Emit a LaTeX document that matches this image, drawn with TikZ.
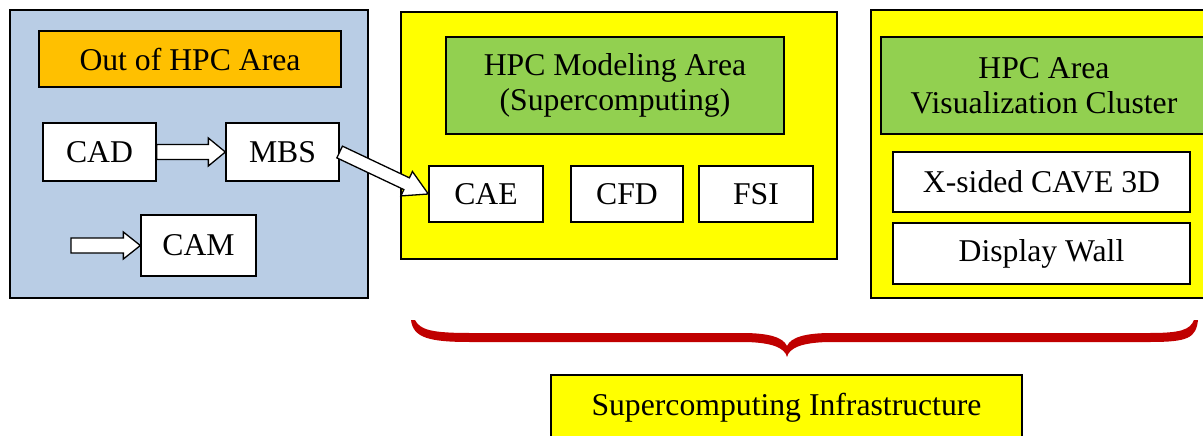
\documentclass[tikz,border=0pt]{standalone}
\usepackage{fontspec}
\setmainfont{Liberation Serif}
\usetikzlibrary{calc}
\definecolor{areablue}{HTML}{B9CDE5}
\definecolor{areaorange}{HTML}{FFC000}
\definecolor{areagreen}{HTML}{92D050}
\definecolor{areayellow}{HTML}{FFFF00}
\definecolor{bracered}{HTML}{C00000}
\tikzset{
  boxbase/.style={draw=black, line width=1.3pt, inner sep=0pt, align=center,
    font=\fontsize{31.7}{35}\selectfont},
  area/.style={boxbase},
  item/.style={boxbase, fill=white},
  barrow/.style={draw=black, line width=1.3pt, fill=white, line join=miter},
}
\newcommand\blockarr[5]{%
  \path ($(#2)!#5!(#1)$) coordinate (bah);
  \draw[barrow] ($(#1)!#3!90:(#2)$) -- ($(bah)!#3!90:(#2)$) -- ($(bah)!#4!90:(#2)$)
    -- (#2) -- ($(bah)!#4!-90:(#2)$) -- ($(bah)!#3!-90:(#2)$) -- ($(#1)!#3!-90:(#2)$) -- cycle;
}
\begin{document}
\begin{tikzpicture}[x=1pt,y=-1pt]
\useasboundingbox (0,0) rectangle (1203,436);
\clip (0,0) rectangle (1203,436);

% Out of HPC area
\node[area, fill=areablue, minimum width=358pt, minimum height=288pt] (outer) at (189,154) {};
\node[area, fill=areaorange, minimum width=302pt, minimum height=56pt] (outhdr) at (190,59) {Out of HPC Area};
\node[item, minimum width=113pt, minimum height=58pt] (cad) at (99.5,152) {CAD};
\node[item, minimum width=113pt, minimum height=58pt] (mbs) at (282.5,152) {MBS};
\node[item, minimum width=115pt, minimum height=61pt] (cam) at (198.5,245.5) {CAM};

% HPC modeling area
\node[area, fill=areayellow, minimum width=436pt, minimum height=247pt] (model) at (619,135.5) {};
\node[area, fill=areagreen, minimum width=338pt, minimum height=97pt] (modelhdr) at (615,85.5) {HPC Modeling Area\\(Supercomputing)};
\node[item, minimum width=114pt, minimum height=56pt] (cae) at (486,194) {CAE};
\node[item, minimum width=112pt, minimum height=56pt] (cfd) at (627,194) {CFD};
\node[item, minimum width=114pt, minimum height=56pt] (fsi) at (756,194) {FSI};

% HPC visualization area
\node[area, fill=areayellow, minimum width=341pt, minimum height=288pt] (vis) at (1041.5,154) {};
\node[area, fill=areagreen, minimum width=326pt, minimum height=97pt] (vishdr) at (1044,85.5) {HPC Area\\Visualization Cluster};
\node[item, minimum width=297pt, minimum height=60pt] (cave) at (1041.5,182) {X-sided CAVE 3D};
\node[item, minimum width=297pt, minimum height=61pt] (wall) at (1041.5,253.5) {Display Wall};

% arrows
\blockarr{cad.east}{mbs.west}{7.5pt}{14pt}{17pt}
\coordinate (camin) at (71,245.5);
\blockarr{camin}{cam.west}{7.5pt}{13.5pt}{17pt}
\blockarr{mbs.east}{cae.west}{6.5pt}{13.5pt}{24pt}

% brace
\fill[bracered] (411,320) .. controls (413,338) and (430,342) .. (470,342) -- (742,342)
  .. controls (772,342) and (785,348) .. (787,357)
  .. controls (789,348) and (802,342) .. (832,342) -- (1150,342)
  .. controls (1188,342) and (1196,338) .. (1198,320)
  -- (1194,320) .. controls (1190,330) and (1180,333) .. (1150,333) -- (832,333)
  .. controls (806,333) and (791,337) .. (787,346)
  .. controls (783,337) and (768,333) .. (742,333) -- (470,333)
  .. controls (432,333) and (420,330) .. (415,320) -- cycle;

% infrastructure
\node[area, fill=areayellow, minimum width=471pt, minimum height=66pt] (infra) at (786.5,408) {Supercomputing Infrastructure};
\end{tikzpicture}
\end{document}
